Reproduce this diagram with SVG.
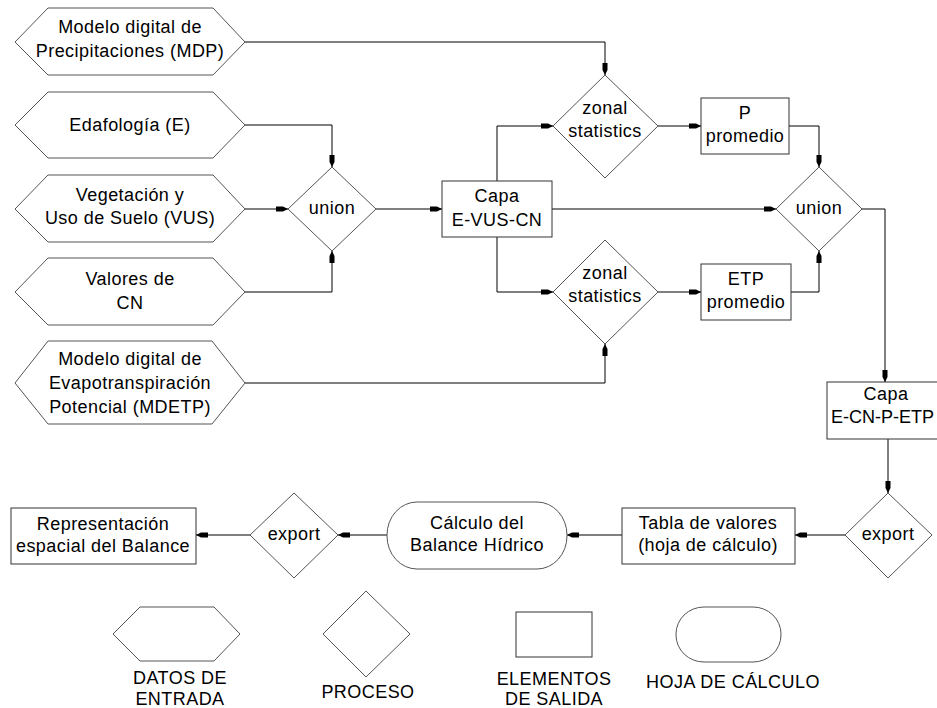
<svg xmlns="http://www.w3.org/2000/svg" width="937" height="708" viewBox="0 0 937 708">
  <style>
    .shape { fill: #ffffff; stroke: #555555; stroke-width: 1; }
    .box { fill: #ffffff; stroke: #333333; stroke-width: 1; }
    .t { font-family: "Liberation Sans", Arial, sans-serif; font-size: 18px; fill: #000000; text-anchor: middle; letter-spacing: 0.45px; }
    .conn { fill: none; stroke: #000000; stroke-width: 1; marker-end: url(#arrow); }
  </style>
  <defs>
    <marker id="arrow" markerUnits="userSpaceOnUse" viewBox="0 -3 12 6" markerWidth="12" markerHeight="6" refX="12" refY="0" orient="auto">
      <path d="M0,-2.5 L7,-2.5 L12,0 L7,2.5 L0,2.5 Z" fill="#000000"/>
    </marker>
  </defs>
  <rect width="937" height="708" fill="#ffffff"/>

  <!-- connectors -->
  <g id="connectors">
    <path class="conn" d="M245,42 H605 V75"/>
    <path class="conn" d="M245,125 H332 V167"/>
    <path class="conn" d="M245,209 H288"/>
    <path class="conn" d="M245,292 H332 V251"/>
    <path class="conn" d="M376,209 H442"/>
    <path class="conn" d="M497,181 V126 H553"/>
    <path class="conn" d="M497,237 V292 H553"/>
    <path class="conn" d="M245,383 H605 V344"/>
    <path class="conn" d="M658,126 H701"/>
    <path class="conn" d="M658,292 H701"/>
    <path class="conn" d="M789,126 H819 V167"/>
    <path class="conn" d="M791,292 H819 V251"/>
    <path class="conn" d="M552,209 H776"/>
    <path class="conn" d="M862,209 H885 V382"/>
    <path class="conn" d="M888,439 V493"/>
    <path class="conn" d="M845,535 H795"/>
    <path class="conn" d="M622,535 H567"/>
    <path class="conn" d="M387,535 H338"/>
    <path class="conn" d="M250,535 H196"/>
  </g>

  <!-- input data -->
  <g id="mdp">
    <polygon class="shape" points="15,42 48,8 213,8 245,42 213,75 48,75"/>
    <text class="t" x="130" y="33">Modelo digital de</text>
    <text class="t" x="130" y="57">Precipitaciones (MDP)</text>
  </g>
  <g id="edafologia">
    <polygon class="shape" points="15,125 48,92 213,92 245,125 213,158 48,158"/>
    <text class="t" x="130" y="131">Edafología (E)</text>
  </g>
  <g id="vus">
    <polygon class="shape" points="15,209 48,175 213,175 245,209 213,242 48,242"/>
    <text class="t" x="130" y="201">Vegetación y</text>
    <text class="t" x="130" y="224">Uso de Suelo (VUS)</text>
  </g>
  <g id="cn">
    <polygon class="shape" points="15,292 48,258 213,258 245,292 213,325 48,325"/>
    <text class="t" x="130" y="285">Valores de</text>
    <text class="t" x="130" y="309">CN</text>
  </g>
  <g id="mdetp">
    <polygon class="shape" points="15,383 48,341 212,341 245,383 212,424 48,424"/>
    <text class="t" x="130" y="365">Modelo digital de</text>
    <text class="t" x="130" y="389">Evapotranspiración</text>
    <text class="t" x="130" y="413">Potencial (MDETP)</text>
  </g>

  <!-- processes -->
  <g id="union1">
    <polygon class="shape" points="288,209 332,167 376,209 332,251"/>
    <text class="t" x="332" y="214">union</text>
  </g>
  <g id="zonal1">
    <polygon class="shape" points="553,126 605,75 658,126 605,178"/>
    <text class="t" x="605" y="114">zonal</text>
    <text class="t" x="605" y="137">statistics</text>
  </g>
  <g id="zonal2">
    <polygon class="shape" points="553,292 605,240 658,292 605,344"/>
    <text class="t" x="605" y="279">zonal</text>
    <text class="t" x="605" y="302">statistics</text>
  </g>
  <g id="union2">
    <polygon class="shape" points="776,209 819,167 862,209 819,251"/>
    <text class="t" x="819" y="214">union</text>
  </g>
  <g id="export1">
    <polygon class="shape" points="845,535 888,493 932,535 888,578"/>
    <text class="t" x="888" y="540">export</text>
  </g>
  <g id="export2">
    <polygon class="shape" points="250,535 294,493 338,535 294,578"/>
    <text class="t" x="294" y="540">export</text>
  </g>

  <!-- outputs -->
  <g id="capa-evuscn">
    <rect class="box" x="442" y="181" width="110" height="56"/>
    <text class="t" x="497" y="202">Capa</text>
    <text class="t" x="497" y="226">E-VUS-CN</text>
  </g>
  <g id="p-promedio">
    <rect class="box" x="701" y="98" width="88" height="56"/>
    <text class="t" x="745" y="119">P</text>
    <text class="t" x="745" y="142">promedio</text>
  </g>
  <g id="etp-promedio">
    <rect class="box" x="701" y="264" width="90" height="56"/>
    <text class="t" x="746" y="285">ETP</text>
    <text class="t" x="746" y="308">promedio</text>
  </g>
  <g id="capa-ecnpetp">
    <rect class="box" x="827" y="382" width="118" height="57"/>
    <text class="t" x="886" y="400">Capa</text>
    <text class="t" x="831" y="423" style="text-anchor: start; letter-spacing: 0px;">E-CN-P-ETP</text>
  </g>
  <g id="tabla">
    <rect class="box" x="622" y="508" width="173" height="56"/>
    <text class="t" x="708" y="529">Tabla de valores</text>
    <text class="t" x="708" y="551">(hoja de cálculo)</text>
  </g>
  <g id="calculo">
    <rect class="shape" x="387" y="502" width="180" height="67" rx="30" ry="33"/>
    <text class="t" x="477" y="529">Cálculo del</text>
    <text class="t" x="477" y="551">Balance Hídrico</text>
  </g>
  <g id="representacion">
    <rect class="box" x="11" y="508" width="185" height="56"/>
    <text class="t" x="103" y="530">Representación</text>
    <text class="t" x="103" y="552">espacial del Balance</text>
  </g>

  <!-- legend -->
  <g id="legend-entrada">
    <polygon class="shape" points="113,634 140,607 214,607 240,634 214,661 140,661"/>
    <text class="t" x="180" y="684">DATOS DE</text>
    <text class="t" x="180" y="705">ENTRADA</text>
  </g>
  <g id="legend-proceso">
    <polygon class="shape" points="323,634 366,591 410,634 366,677"/>
    <text class="t" x="368" y="698">PROCESO</text>
  </g>
  <g id="legend-salida">
    <rect class="box" x="516" y="612" width="76" height="45"/>
    <text class="t" x="554" y="685">ELEMENTOS</text>
    <text class="t" x="554" y="705">DE SALIDA</text>
  </g>
  <g id="legend-hoja">
    <rect class="shape" x="676" y="607" width="105" height="55" rx="28" ry="27"/>
    <text class="t" x="733" y="688">HOJA DE CÁLCULO</text>
  </g>
</svg>
